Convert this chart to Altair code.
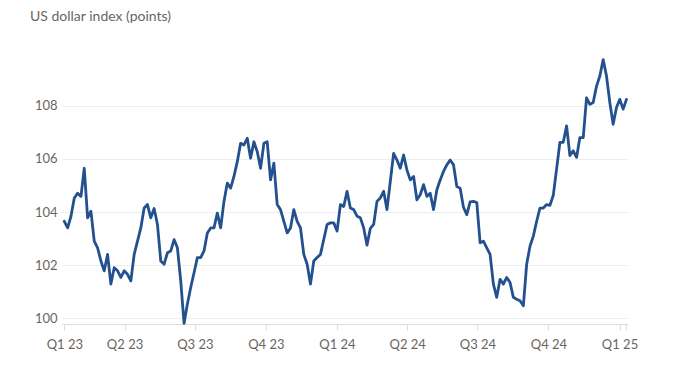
import altair as alt
import pandas as pd

# Values, evenly spaced in time from 13 Jan 2023 to 10 Jan 2025
values = [
    103.65, 103.4, 103.84, 104.53, 104.71, 104.59, 105.65, 103.78, 104.03, 102.9,
    102.65, 102.15, 101.78, 102.4, 101.28, 101.9, 101.78, 101.53, 101.78, 101.65,
    101.4, 102.4, 102.9, 103.4, 104.15, 104.28, 103.78, 104.13, 103.53,
    102.15, 102.03, 102.46, 102.53, 102.96, 102.65, 101.4, 99.8, 100.53, 101.15,
    101.71, 102.28, 102.28, 102.53, 103.21, 103.4, 103.4, 103.96, 103.4, 104.4,
    105.09, 104.9, 105.34, 105.9, 106.59, 106.53, 106.78, 106.03, 106.65,
    106.28, 105.65, 106.59, 106.65, 105.21, 105.84, 104.28, 104.09, 103.65, 103.21,
    103.4, 104.09, 103.65, 103.4, 102.4, 102.03, 101.28, 102.15, 102.28, 102.4,
    102.96, 103.53, 103.59, 103.59, 103.28, 104.28, 104.21, 104.78, 104.15,
    104.09, 103.84, 103.78, 103.4, 102.75, 103.38, 103.53, 104.4, 104.53, 104.78,
    104.09, 105.15, 106.21, 105.96, 105.65, 106.15, 105.59, 105.21, 105.34, 104.46,
    104.65, 105.03, 104.59, 104.71, 104.09, 104.84, 105.21, 105.53, 105.78,
    105.96, 105.78, 104.96, 104.9, 104.18, 103.9, 104.38, 104.4, 104.36, 102.84,
    102.9, 102.65, 102.4, 101.28, 100.78, 101.46, 101.28, 101.53, 101.34, 100.78,
    100.71, 100.65, 100.46, 102.03, 102.71, 103.09, 103.65, 104.15, 104.15,
    104.28, 104.25, 104.63, 105.63, 106.63, 106.63, 107.25, 106.13, 106.31, 106.06,
    106.81, 106.81, 108.31, 108.06, 108.13, 108.75, 109.13, 109.75, 109.13, 108.13,
    107.31, 107.94, 108.25, 107.88, 108.25,
]
start_date = "2023-01-13"
end_date = "2025-01-10"
dates = pd.date_range(start_date, end_date, periods=len(values))

y_ticks = [100, 102, 104, 106, 108]
title_text = "US dollar index (points)"

df = pd.DataFrame({"date": dates, "value": values})

x_ticks = [
    alt.DateTime(year=2023, month=1, date=13),
    alt.DateTime(year=2023, month=4, date=1),
    alt.DateTime(year=2023, month=7, date=1),
    alt.DateTime(year=2023, month=10, date=1),
    alt.DateTime(year=2024, month=1, date=1),
    alt.DateTime(year=2024, month=4, date=1),
    alt.DateTime(year=2024, month=7, date=1),
    alt.DateTime(year=2024, month=10, date=1),
    alt.DateTime(year=2025, month=1, date=1),
    alt.DateTime(year=2025, month=1, date=10),
]

FONT = "Lato"
TXT = "#6b6561"

line = alt.Chart(df).mark_line(
    color="#23508f", strokeWidth=2.8, strokeJoin="round", strokeCap="round"
).encode(
    x=alt.X(
        "date:T",
        scale=alt.Scale(
            domain=[
                alt.DateTime(year=2023, month=1, date=10),
                alt.DateTime(year=2025, month=1, date=12),
            ]
        ),
        axis=alt.Axis(
            title=None,
            values=x_ticks,
            labelExpr="timeFormat(datum.value, '%m-%d') == '01-10' ? '' : 'Q' + quarter(datum.value) + ' ' + timeFormat(datum.value, '%y')",
            grid=False,
            domainColor="#dddddd",
            tickColor="#dddddd",
            tickSize=6,
            labelPadding=8,
            labelFont=FONT,
            labelFontSize=13,
            labelColor=TXT,
            labelFlush=False,
            labelOverlap=False,
        ),
    ),
    y=alt.Y(
        "value:Q",
        scale=alt.Scale(domain=[99.774, 110.49], nice=False, zero=False),
        axis=alt.Axis(
            title=None,
            values=y_ticks,
            domain=False,
            ticks=False,
            gridColor="#eeeeee",
            labelPadding=5,
            labelFont=FONT,
            labelFontSize=13,
            labelColor=TXT,
        ),
    ),
)

title = alt.Chart(pd.DataFrame({"t": [title_text]})).mark_text(
    align="left", baseline="middle", font=FONT, fontSize=14, color=TXT
).encode(text="t:N", x=alt.value(-32), y=alt.value(-23))

chart = (
    alt.layer(line, title)
    .properties(
        width=566,
        height=284,
        autosize=alt.AutoSizeParams(type="none"),
        padding={"left": 54, "top": 32, "right": 64, "bottom": 40},
    )
    .configure_view(stroke=None)
)

chart.save("out.html", embed_options={"renderer": "svg", "actions": False})
